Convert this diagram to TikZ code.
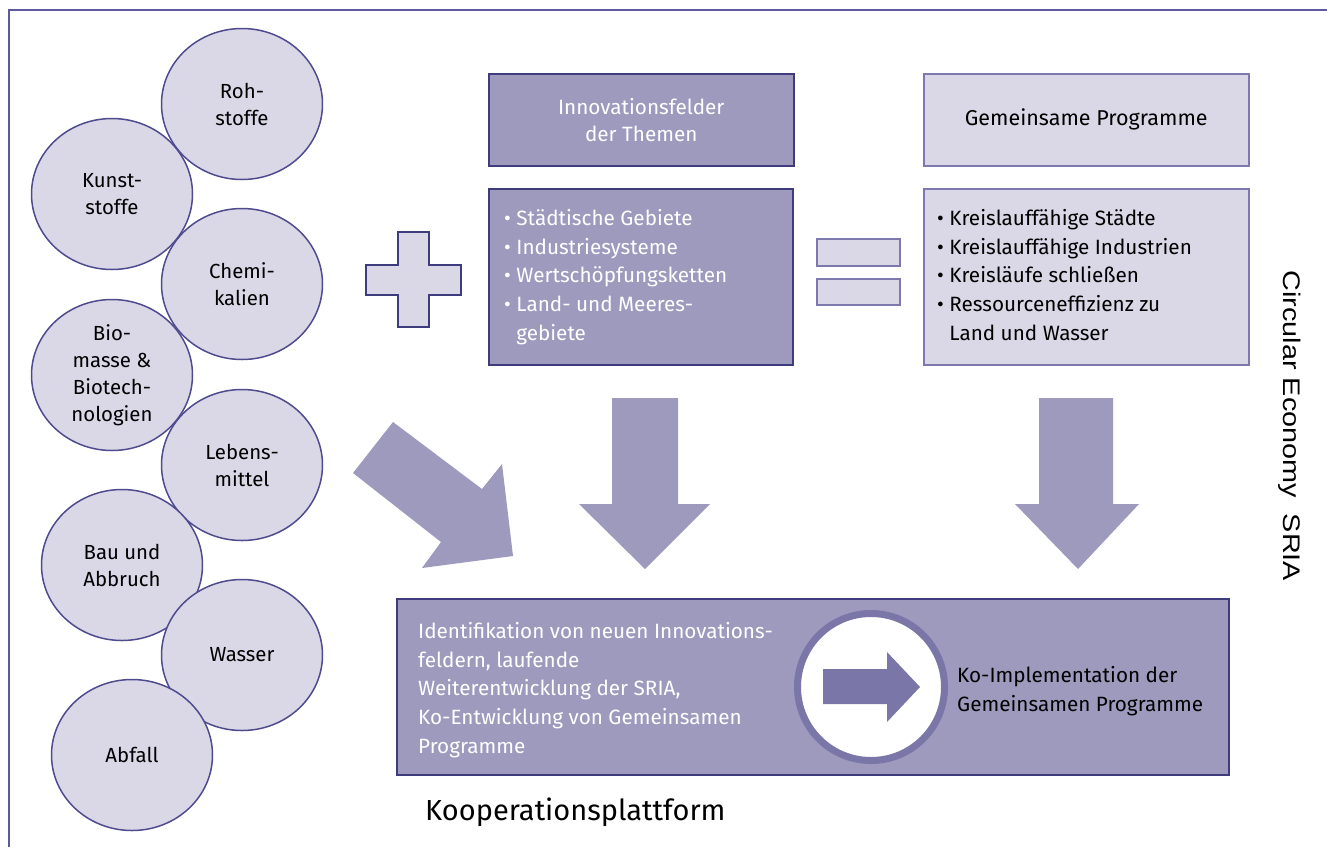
\documentclass[tikz,border=0pt]{standalone}
\usepackage{fontspec}
\setmainfont{Fira Sans}
\newfontfamily\narrowfont[FakeStretch=1.2]{Liberation Sans}
\usetikzlibrary{shapes.geometric}
\definecolor{darkfill}{HTML}{9D9ABE}
\definecolor{lightfill}{HTML}{DAD8E7}
\definecolor{navy}{HTML}{3F3C7E}
\definecolor{lightedge}{HTML}{7D79AF}
\definecolor{ringcol}{HTML}{7A76A8}
\definecolor{framecol}{HTML}{5C5A9C}
\definecolor{circedge}{HTML}{4F4B8F}
\tikzset{
  x=1pt, y=-1pt,
  bubble/.style={ellipse, draw=circedge, line width=1.5pt, fill=lightfill,
    minimum width=161pt, minimum height=151pt, inner sep=0pt, align=center,
    font=\fontsize{20.4}{27}\selectfont},
  darkbox/.style={draw=navy, line width=1.5pt, fill=darkfill, anchor=north west,
    inner sep=0pt, text=white, font=\fontsize{20.7}{27}\selectfont},
  lightbox/.style={draw=lightedge, line width=1.5pt, fill=lightfill, anchor=north west,
    inner sep=0pt, text=black, font=\fontsize{21.5}{27}\selectfont},
  txt/.style={inner sep=0pt, font=\fontsize{20.7}{28.8}\selectfont, align=left},
  bigarrow/.style={fill=darkfill, draw=none},
}
\begin{document}
\begin{tikzpicture}
\useasboundingbox (0,0) rectangle (1327,847);
\fill[white] (0,0) rectangle (1327,847);
% frame
\draw[framecol, line width=1.3pt] (9,847) -- (9,10) -- (1327,10);

% bubbles
\node[bubble] (roh) at (242,104) {Roh-\\stoffe};
\node[bubble] (kunst) at (112,194) {Kunst-\\stoffe};
\node[bubble] (chemi) at (242,284) {Chemi-\\kalien};
\node[bubble] (bio) at (112,375) {Bio-\\masse \&\\Biotech-\\nologien};
\node[bubble] (leben) at (242,465) {Lebens-\\mittel};
\node[bubble] (bau) at (122,565) {Bau und\\Abbruch};
\node[bubble] (wasser) at (242,655) {Wasser};
\node[bubble] (abfall) at (132,755) {Abfall};

% plus
\draw[draw=navy, line width=1.5pt, fill=lightfill]
  (398,232) -- (429,232) -- (429,265) -- (461,265) -- (461,295) -- (429,295)
  -- (429,327) -- (398,327) -- (398,295) -- (366,295) -- (366,265) -- (398,265) -- cycle;

% equals
\node[lightbox, minimum width=83pt, minimum height=27pt] (eq1) at (816,238) {};
\node[lightbox, minimum width=83pt, minimum height=26pt] (eq2) at (816,278) {};

% top boxes
\node[darkbox, minimum width=305pt, minimum height=92pt, align=center] (innov) at (488,73)
  {Innovationsfelder\\der Themen};
\node[darkbox, minimum width=304pt, minimum height=176pt] (themen) at (488,188) {};
\node[txt, text=white, anchor=north west] (themtxt) at (504,209)
  {\textbullet\ Städtische Gebiete\\
   \textbullet\ Industriesysteme\\
   \textbullet\ Wertschöpfungsketten\\
   \textbullet\ Land- und Meeres-\\
   \phantom{\textbullet\ }gebiete};

\node[lightbox, minimum width=325pt, minimum height=92pt, align=center] (gemein) at (923,73)
  {Gemeinsame Programme};
\node[lightbox, minimum width=325pt, minimum height=176pt] (progs) at (923,188) {};
\node[txt, text=black, anchor=north west] (progtxt) at (937,209)
  {\textbullet\ Kreislauffähige Städte\\
   \textbullet\ Kreislauffähige Industrien\\
   \textbullet\ Kreisläufe schließen\\
   \textbullet\ Ressourceneffizienz zu\\
   \phantom{\textbullet\ }Land und Wasser};

% big arrows
\fill[bigarrow] (393,422) -- (482,489) -- (502,464) -- (513,556) -- (422,568)
  -- (441,542) -- (353,473) -- cycle;
\fill[bigarrow] (612,398) -- (678,398) -- (678,504) -- (710,504) -- (645,569)
  -- (579,504) -- (612,504) -- cycle;
\fill[bigarrow] (1039,398) -- (1113,398) -- (1113,504) -- (1139,504) -- (1078,569)
  -- (1015,504) -- (1039,504) -- cycle;

% platform box
\node[darkbox, minimum width=832pt, minimum height=176pt] (plat) at (396,598) {};
\node[txt, text=white, anchor=north west] (plattxt) at (418,622)
  {Identifikation von neuen Innovations-\\
   feldern, laufende\\
   Weiterentwicklung der SRIA,\\
   Ko-Entwicklung von Gemeinsamen\\
   Programme};
\node[circle, draw=ringcol, line width=7pt, fill=white, minimum size=147pt, inner sep=0pt]
  (ring) at (871,687) {};
\fill[ringcol] (823,669) -- (887,669) -- (887,652) -- (920,687) -- (887,722)
  -- (887,704) -- (823,704) -- cycle;
\node[txt, text=black, anchor=west] (kotxt) at (957,691)
  {Ko-Implementation der\\Gemeinsamen Programme};

\node[inner sep=0pt, font=\fontsize{29}{32}\selectfont, anchor=west] (koop) at (425,812)
  {Kooperationsplattform};

\node[inner sep=0pt, rotate=-90, font=\narrowfont\fontsize{24}{28}\selectfont] (sria) at (1290,426)
  {Circular Economy\ \ SRIA};
\end{tikzpicture}
\end{document}
